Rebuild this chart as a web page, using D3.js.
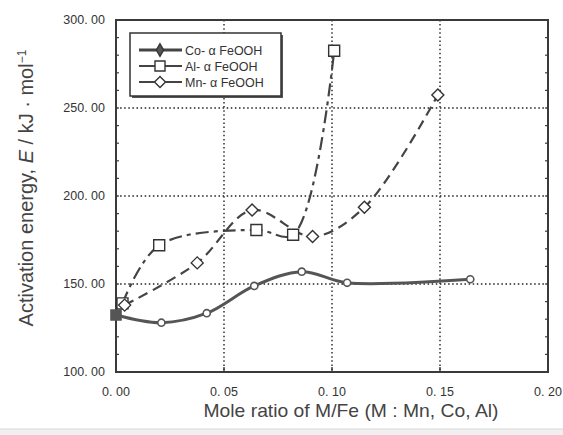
<!DOCTYPE html>
<html><head><meta charset="utf-8">
<script src="https://cdn.jsdelivr.net/npm/d3@7/dist/d3.min.js"></script>
<style>body{margin:0;background:#fff}svg{display:block}</style>
</head><body>
<svg id="c" width="563" height="435"></svg>
<script>
const seriesNames = ["Co- \u03b1 FeOOH", "Al- \u03b1 FeOOH", "Mn- \u03b1 FeOOH"];
const coX = [0, 0.021, 0.042, 0.064, 0.086, 0.107, 0.164];
const coY = [132.4, 128, 133.4, 148.9, 157, 150.7, 152.7];
const alX = [0.003, 0.020, 0.065, 0.082, 0.101];
const alY = [139, 172, 180.7, 178, 282.5];
const mnX = [0.004, 0.0376, 0.063, 0.091, 0.115, 0.149];
const mnY = [138, 162, 192, 177, 193.6, 257.4];
const xTicks = [0, 0.05, 0.10, 0.15, 0.20];
const xTickLabels = ["0. 00", "0. 05", "0. 10", "0. 15", "0. 20"];
const yTicks = [100, 150, 200, 250, 300];
const yTickLabels = ["100. 00", "150. 00", "200. 00", "250. 00", "300. 00"];

const svg = d3.select("#c");
const L = 116, R = 548, T = 20, B = 372;
const x = d3.scaleLinear().domain([0, 0.2]).range([L, R]);
const y = d3.scaleLinear().domain([100, 300]).range([B, T]);
const ink = "#3a3a3a";

svg.append("rect").attr("x",0).attr("y",429).attr("width",563).attr("height",6).attr("fill","#f0f0f0");
svg.append("line").attr("x1",0).attr("x2",563).attr("y1",429).attr("y2",429).attr("stroke","#d8d8d8");

// grid
const g = svg.append("g");
g.selectAll(".gx").data(xTicks.slice(1,-1)).join("line")
  .attr("x1",d=>x(d)).attr("x2",d=>x(d)).attr("y1",T).attr("y2",B)
  .attr("stroke","#222").attr("stroke-width",1.4).attr("stroke-dasharray","1.5,2.6");
g.selectAll(".gy").data(yTicks.slice(1,-1)).join("line")
  .attr("x1",L).attr("x2",R).attr("y1",d=>y(d)).attr("y2",d=>y(d))
  .attr("stroke","#222").attr("stroke-width",1.4).attr("stroke-dasharray","1.5,2.6");

// minor ticks
const minor = d3.range(110, 300, 10);
g.selectAll(".ml").data(minor).join("line")
  .attr("x1",L).attr("x2",L+3).attr("y1",d=>y(d)).attr("y2",d=>y(d)).attr("stroke",ink).attr("stroke-width",1.2);
g.selectAll(".mr").data(minor).join("line")
  .attr("x1",R-3).attr("x2",R).attr("y1",d=>y(d)).attr("y2",d=>y(d)).attr("stroke",ink).attr("stroke-width",1.2);
g.selectAll(".mx").data(xTicks.slice(1,-1)).join("line")
  .attr("x1",d=>x(d)).attr("x2",d=>x(d)).attr("y1",B-5).attr("y2",B).attr("stroke",ink).attr("stroke-width",1.4);

// frame
svg.append("rect").attr("x",L).attr("y",T).attr("width",R-L).attr("height",B-T)
  .attr("fill","none").attr("stroke",ink).attr("stroke-width",2);

// tick labels
svg.selectAll(".yl").data(yTicks).join("text")
  .attr("x",105).attr("y",d=>y(d)+4).attr("text-anchor","end")
  .attr("font-family","Liberation Sans, Arial").attr("font-size",12.5).attr("fill","#333")
  .text((d,i)=>yTickLabels[i]);
svg.selectAll(".xl").data(xTicks).join("text")
  .attr("x",d=>x(d)).attr("y",396).attr("text-anchor","middle")
  .attr("font-family","Liberation Sans, Arial").attr("font-size",12.5).attr("fill","#333")
  .text((d,i)=>xTickLabels[i]);

// axis titles
svg.append("text").attr("x",351).attr("y",417).attr("text-anchor","middle")
  .attr("font-family","Liberation Sans, Arial").attr("font-size",19).attr("fill","#444")
  .attr("textLength",295).attr("lengthAdjust","spacingAndGlyphs")
  .text("Mole ratio of M/Fe (M : Mn, Co, Al)");
const yt = svg.append("text").attr("transform","translate(33,188) rotate(-90)")
  .attr("text-anchor","middle").attr("font-family","Liberation Sans, Arial").attr("font-size",20).attr("fill","#444");
yt.append("tspan").text("Activation energy, ");
yt.append("tspan").attr("font-style","italic").text("E");
yt.append("tspan").text(" / kJ \u00b7 mol");
yt.append("tspan").attr("dy",-7).attr("font-size",12).text("\u22121");

// series
const line = d3.line().x(d=>x(d[0])).y(d=>y(d[1])).curve(d3.curveCatmullRom.alpha(0.5));
const co = coX.map((v,i)=>[v,coY[i]]);
const al = alX.map((v,i)=>[v,alY[i]]);
const mn = mnX.map((v,i)=>[v,mnY[i]]);
svg.append("path").attr("d",line(mn)).attr("fill","none").attr("stroke","#444").attr("stroke-width",2.2).attr("stroke-dasharray","10,6");
svg.append("path").attr("d",line(al)).attr("fill","none").attr("stroke","#444").attr("stroke-width",2.2).attr("stroke-dasharray","13,5,4,5");
svg.append("path").attr("d",line(co)).attr("fill","none").attr("stroke","#555").attr("stroke-width",3);

// markers
svg.selectAll(".com").data(co).join("path")
  .attr("transform",d=>`translate(${x(d[0])},${y(d[1])})`)
  .attr("d",(d,i)=> i===0 ? "M-5,-5H5V5H-5Z" : d3.symbol(d3.symbolCircle,40)())
  .attr("fill",(d,i)=> i===0 ? "#555" : "#fff").attr("stroke","#555").attr("stroke-width",1.6);
svg.selectAll(".alm").data(al).join("path")
  .attr("transform",d=>`translate(${x(d[0])},${y(d[1])})`)
  .attr("d","M-5.5,-5.5H5.5V5.5H-5.5Z").attr("fill","#fff").attr("stroke","#333").attr("stroke-width",1.4);
svg.selectAll(".mnm").data(mn).join("path")
  .attr("transform",d=>`translate(${x(d[0])},${y(d[1])})`)
  .attr("d","M0,-6L6,0L0,6L-6,0Z").attr("fill","#fff").attr("stroke","#333").attr("stroke-width",1.4);

// legend
const lg = svg.append("g");
lg.append("rect").attr("x",132).attr("y",35).attr("width",151).attr("height",63).attr("fill","#555");
lg.append("rect").attr("x",130).attr("y",33).attr("width",151).attr("height",63).attr("fill","#fff").attr("stroke","#333").attr("stroke-width",1.5);
const ly = [50, 66, 82];
ly.forEach((yy,i)=>{
  lg.append("line").attr("x1",139).attr("x2",182).attr("y1",yy).attr("y2",yy)
    .attr("stroke","#444").attr("stroke-width", i===0?3:2);
  const m = lg.append("path").attr("transform",`translate(160,${yy})`)
    .attr("stroke","#333").attr("stroke-width",1.4);
  if(i===0) m.attr("d",d3.symbol(d3.symbolDiamond,45)()).attr("fill","#555");
  else if(i===1) m.attr("d","M-5,-5H5V5H-5Z").attr("fill","#fff");
  else m.attr("d","M0,-5.5L5.5,0L0,5.5L-5.5,0Z").attr("fill","#fff");
  lg.append("text").attr("x",185).attr("y",yy+4.5).attr("font-family","Liberation Sans, Arial")
    .attr("font-size",12.5).attr("fill","#333").text(seriesNames[i]);
});
</script>
</body></html>
